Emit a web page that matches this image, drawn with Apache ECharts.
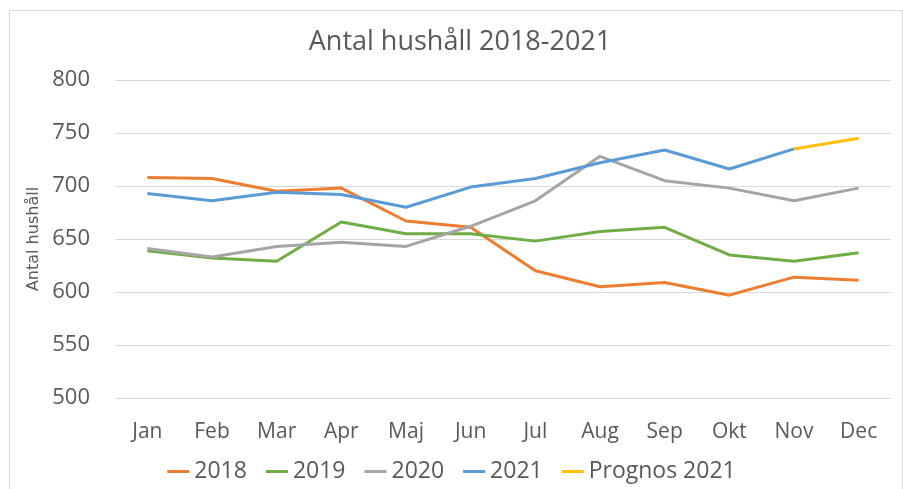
<!DOCTYPE html>
<html>
<head>
<meta charset="utf-8">
<script src="https://cdn.jsdelivr.net/npm/echarts@6/dist/echarts.min.js"></script>
<style>
  html, body { margin: 0; padding: 0; background: #fff; }
  #chart { width: 903px; height: 489px; }
</style>
</head>
<body>
<div id="chart"></div>
<script>
// months
let months = ['Jan', 'Feb', 'Mar', 'Apr', 'Maj', 'Jun', 'Jul', 'Aug', 'Sep', 'Okt', 'Nov', 'Dec'];

// households per year
let y2018 = [708, 707, 695, 698, 667, 661, 620, 605, 609, 597, 614, 611];
let y2019 = [639, 632, 629, 666, 655, 655, 648, 657, 661, 635, 629, 637];
let y2020 = [641, 633, 643, 647, 643, 662, 686, 728, 705, 698, 686, 698];
let y2021 = [693, 686, 694, 692, 680, 699, 707, 722, 734, 716, 735, null];
let prognos2021 = [null, null, null, null, null, null, null, null, null, null, 735, 745];

let textColor = '#595959';
let font = '"Open Sans", "Liberation Sans", sans-serif';

function lineSeries(name, data, color) {
  return {
    name: name,
    type: 'line',
    data: data,
    showSymbol: false,
    symbol: 'none',
    lineStyle: {width: 3, color: color},
    itemStyle: {color: color},
    emphasis: {disabled: true}
  };
}

let option = {
  animation: false,
  backgroundColor: '#fff',
  title: {
    text: 'Antal hushåll 2018-2021',
    left: 455,
    textAlign: 'center',
    top: 24,
    textStyle: {color: textColor, fontFamily: font, fontSize: 27, fontWeight: 'normal'}
  },
  legend: {
    bottom: 1,
    left: 'center',
    itemGap: 19,
    itemWidth: 22,
    itemHeight: 3,
    icon: 'rect',
    textStyle: {color: textColor, fontFamily: font, fontSize: 23},
    data: ['2018', '2019', '2020', '2021', 'Prognos 2021']
  },
  graphic: [{
    type: 'rect',
    shape: {x: 9.5, y: 10.5, width: 893, height: 500},
    style: {fill: 'none', stroke: '#d9d9d9', lineWidth: 1},
    silent: true
  }],
  grid: {left: 115, right: 12, top: 80, bottom: 91},
  xAxis: {
    type: 'category',
    data: months,
    boundaryGap: true,
    axisLine: {show: true, lineStyle: {color: '#d9d9d9'}},
    axisTick: {show: false},
    axisLabel: {color: textColor, fontFamily: font, fontSize: 21, margin: 24}
  },
  yAxis: {
    type: 'value',
    min: 500,
    max: 800,
    interval: 50,
    name: 'Antal hushåll',
    nameLocation: 'middle',
    nameRotate: 90,
    nameGap: 70,
    nameTextStyle: {color: textColor, fontFamily: '"DejaVu Sans", sans-serif', fontSize: 16},
    axisLine: {show: false},
    axisTick: {show: false},
    axisLabel: {color: textColor, fontFamily: font, fontSize: 22, margin: 25},
    splitLine: {lineStyle: {color: '#d9d9d9', width: 1}}
  },
  series: [
    lineSeries('2018', y2018, '#ED7D31'),
    lineSeries('2019', y2019, '#70AD47'),
    lineSeries('2020', y2020, '#A5A5A5'),
    lineSeries('2021', y2021, '#5B9BD5'),
    lineSeries('Prognos 2021', prognos2021, '#FFC000')
  ]
};

let myChart = echarts.init(document.getElementById('chart'));
myChart.setOption(option);
</script>
</body>
</html>
